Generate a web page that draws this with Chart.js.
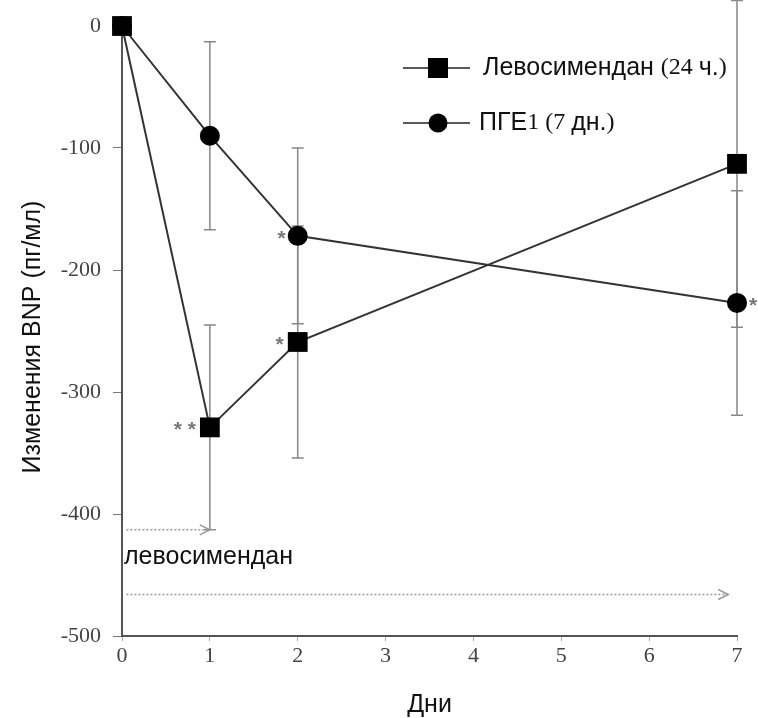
<!DOCTYPE html>
<html>
<head>
<meta charset="utf-8">
<script src="https://cdn.jsdelivr.net/npm/chart.js@4"></script>
<style>
  body { margin: 0; background: #fff; }
  #wrap { width: 758px; height: 718px; }
</style>
</head>
<body>
<div id="wrap"><canvas id="myChart"></canvas></div>
<script>
// --- Data ---
const days = [0, 1, 2, 7];
const levoValues = [0, -329, -259, -113];
const levoErrors = [0, 84, 95, 134];
const pgeValues = [0, -90, -172, -227];
const pgeErrors = [0, 77, 72, 92];
const levoStars = ['', '**', '*', ''];
const pgeStars = ['', '', '*', '*'];
const yTicks = [0, -100, -200, -300, -400, -500];
const xTicks = [0, 1, 2, 3, 4, 5, 6, 7];
const xTitle = 'Дни';
const yTitle = 'Изменения BNP (пг/мл)';
// legend text split so digits/brackets use the serif face, as in the source
const legendParts = [
    [['Левосимендан ', 's'], ['(24 ', 'r'], ['ч.', 's'], [')', 'r']],
    [['ПГЕ', 's'], ['1 (7 ', 'r'], ['дн.', 's'], [')', 'r']]
];
// treatment arrows: [from day, to day, level]
const arrowLevo = [0.05, 1, -413];
const arrowPge = [0.05, 6.9, -466];
const arrowLabel = 'левосимендан';

const serif = '"Liberation Serif", "DejaVu Serif", serif';
const sans = '"Liberation Sans", Arial, sans-serif';

// --- Error bars, stars, arrows, titles, legend ---
const extrasPlugin = {
    id: 'extras',
    beforeDatasetsDraw(chart) {
        const { ctx, scales: { x, y } } = chart;
        ctx.save();
        ctx.strokeStyle = '#888';
        ctx.lineWidth = 1.5;
        const bars = [[levoValues, levoErrors], [pgeValues, pgeErrors]];
        bars.forEach(([vals, errs]) => {
            vals.forEach((v, i) => {
                if (!errs[i]) return;
                const px = x.getPixelForValue(days[i]);
                const top = y.getPixelForValue(v + errs[i]);
                const bot = y.getPixelForValue(v - errs[i]);
                ctx.beginPath();
                ctx.moveTo(px, top); ctx.lineTo(px, bot);
                ctx.moveTo(px - 6, top); ctx.lineTo(px + 6, top);
                ctx.moveTo(px - 6, bot); ctx.lineTo(px + 6, bot);
                ctx.stroke();
            });
        });

        // dotted arrows
        ctx.strokeStyle = '#999';
        ctx.lineWidth = 1.5;
        [arrowLevo, arrowPge].forEach(([a, b, lvl]) => {
            const x0 = x.getPixelForValue(a);
            const x1 = x.getPixelForValue(b);
            const py = y.getPixelForValue(lvl);
            ctx.setLineDash([2, 2]);
            ctx.beginPath();
            ctx.moveTo(x0, py); ctx.lineTo(x1, py);
            ctx.stroke();
            ctx.setLineDash([]);
            ctx.beginPath();
            ctx.moveTo(x1 - 10, py - 5); ctx.lineTo(x1, py); ctx.lineTo(x1 - 10, py + 5);
            ctx.stroke();
        });
        ctx.fillStyle = '#111';
        ctx.font = '25px ' + sans;
        ctx.textBaseline = 'middle';
        ctx.textAlign = 'left';
        ctx.fillText(arrowLabel, x.getPixelForValue(0) + 2, y.getPixelForValue(arrowLevo[2]) + 27);

        // axis titles
        ctx.textAlign = 'center';
        ctx.fillText(xTitle, (x.left + x.right) / 2, 705);
        ctx.save();
        ctx.translate(33, 337);
        ctx.rotate(-Math.PI / 2);
        ctx.fillText(yTitle, 0, 0);
        ctx.restore();
        ctx.restore();
    },
    afterDatasetsDraw(chart) {
        const { ctx, scales: { x, y } } = chart;
        ctx.save();
        ctx.fillStyle = '#777';
        ctx.font = 'bold 21px ' + sans;
        ctx.textBaseline = 'middle';
        levoStars.forEach((s, i) => {
            if (!s) return;
            ctx.textAlign = 'right';
            ctx.fillText(s.split('').join(' '), x.getPixelForValue(days[i]) - 14, y.getPixelForValue(levoValues[i]) + 3);
        });
        pgeStars.forEach((s, i) => {
            if (!s) return;
            const px = x.getPixelForValue(days[i]);
            const py = y.getPixelForValue(pgeValues[i]) + 3;
            if (i === days.length - 1) {
                ctx.textAlign = 'left';
                ctx.fillText(s, px + 12, py);
            } else {
                ctx.textAlign = 'right';
                ctx.fillText(s, px - 12, py);
            }
        });

        // legend
        const rows = [[68, 'rect', 483], [123, 'circle', 479]];
        ctx.strokeStyle = '#222';
        ctx.lineWidth = 1.5;
        rows.forEach(([ly, shape, tx], k) => {
            ctx.beginPath();
            ctx.moveTo(403, ly); ctx.lineTo(470, ly);
            ctx.stroke();
            ctx.fillStyle = '#000';
            ctx.beginPath();
            if (shape === 'rect') ctx.rect(428, ly - 10, 20, 20);
            else ctx.arc(438, ly, 9.5, 0, Math.PI * 2);
            ctx.fill();
            ctx.fillStyle = '#111';
            ctx.textAlign = 'left';
            legendParts[k].forEach(([txt, f]) => {
                ctx.font = f === 's' ? '25px ' + sans : '24px ' + serif;
                ctx.fillText(txt, tx, ly);
                tx += ctx.measureText(txt).width;
            });
        });
        ctx.restore();
    }
};

const ctx = document.getElementById('myChart');

const myChart = new Chart(ctx, {
    type: 'line',
    data: {
        datasets: [{
            label: 'Левосимендан (24 ч.)',
            data: days.map((d, i) => ({ x: d, y: levoValues[i] })),
            borderColor: '#333',
            borderWidth: 2,
            pointStyle: 'rect',
            pointRadius: 14,
            pointBackgroundColor: '#000',
            pointBorderWidth: 0,
            clip: false,
            order: 0
        }, {
            label: 'ПГЕ1 (7 дн.)',
            data: days.map((d, i) => ({ x: d, y: pgeValues[i] })),
            borderColor: '#333',
            borderWidth: 2,
            pointStyle: 'circle',
            pointRadius: 10,
            pointBackgroundColor: '#000',
            pointBorderWidth: 0,
            clip: false,
            order: 1
        }]
    },
    options: {
        responsive: true,
        maintainAspectRatio: false,
        animation: false,
        layout: { padding: { top: 26, right: 21, left: 0, bottom: 0 } },
        plugins: {
            legend: { display: false },
            tooltip: { enabled: false }
        },
        scales: {
            x: {
                type: 'linear',
                min: 0,
                max: 7,
                afterBuildTicks: s => { s.ticks = xTicks.map(v => ({ value: v })); },
                afterFit: s => { s.height = 82; s.paddingLeft = 0; s.paddingRight = 0; },
                ticks: { font: { family: serif, size: 22 }, color: '#444', padding: 2 },
                grid: { drawOnChartArea: false, tickLength: 5, color: '#aaa' },
                border: { color: '#555', width: 2 },
                title: { display: false }
            },
            y: {
                min: -500,
                max: 0,
                afterBuildTicks: s => { s.ticks = yTicks.map(v => ({ value: v })); },
                afterFit: s => { s.width = 122; s.paddingTop = 0; s.paddingBottom = 0; },
                ticks: { font: { family: serif, size: 22 }, color: '#444', padding: 12 },
                grid: { drawOnChartArea: false, tickLength: 9, color: '#777' },
                border: { color: '#555', width: 2 },
                title: { display: false }
            }
        }
    },
    plugins: [extrasPlugin]
});
</script>
</body>
</html>
